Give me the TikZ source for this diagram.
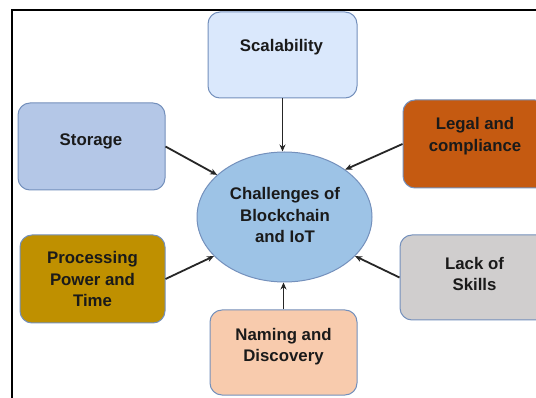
\documentclass[tikz,border=0pt]{standalone}
\usepackage{fontspec}
\setmainfont{Liberation Sans}
\usetikzlibrary{shapes.geometric,arrows.meta,calc}

\definecolor{edgeblue}{HTML}{7490BC}
\definecolor{scalfill}{HTML}{DAE8FC}
\definecolor{storfill}{HTML}{B4C7E7}
\definecolor{legalfill}{HTML}{C55A11}
\definecolor{procfill}{HTML}{BF9000}
\definecolor{lackfill}{HTML}{D0CECE}
\definecolor{namefill}{HTML}{F8CBAD}
\definecolor{hubfill}{HTML}{9DC3E6}
\definecolor{linkgray}{HTML}{262626}
\definecolor{inktext}{HTML}{1A1A1A}

\begin{document}
\begin{tikzpicture}[x=1pt,y=-1pt,
  box/.style={draw=edgeblue, line width=1pt, rounded corners=12pt, inner sep=0pt},
  hub/.style={ellipse, draw=edgeblue, line width=1pt, fill=hubfill, inner sep=0pt},
  txt/.style={align=center, text=inktext, inner sep=0pt,
              font=\bfseries\fontsize{16.8}{21.5}\selectfont},
  link/.style={draw=linkgray, line width=1.8pt, -{Stealth[length=7pt,width=6pt]}}]

\useasboundingbox (0,0) rectangle (536,398);
\clip (0,0) rectangle (536,398);
\fill[white] (0,0) rectangle (536,398);

% outer frame (left and top edges)
\draw[line width=2pt] (11.5,398) -- (11.5,10) -- (536,10);

% central topic
\node[hub, minimum width=175pt, minimum height=130pt] (ch) at (284.5,217) {};
\node[txt] (ch-t) at (285,215) {Challenges of\\Blockchain\\and IoT};

% surrounding challenges
\node[box, fill=scalfill,  minimum width=149pt, minimum height=86pt] (scal)  at (282.5,55)  {};
\node[box, fill=storfill,  minimum width=147pt, minimum height=87pt] (stor)  at (91.5,146.5) {};
\node[box, fill=legalfill, minimum width=144pt, minimum height=88pt] (legal) at (475,144)   {};
\node[box, fill=procfill,  minimum width=145pt, minimum height=88pt] (proc)  at (92.5,279)  {};
\node[box, fill=lackfill,  minimum width=149pt, minimum height=85pt] (lack)  at (474.5,277.5) {};
\node[box, fill=namefill,  minimum width=147pt, minimum height=85pt] (name)  at (283.5,352.5) {};

\node[txt] (scal-t)  at (281.5,47)  {Scalability};
\node[txt] (stor-t)  at (91,141)    {Storage};
\node[txt] (legal-t) at (475,136)   {Legal and\\compliance};
\node[txt] (proc-t)  at (92.5,279)  {Processing\\Power and\\Time};
\node[txt] (lack-t)  at (474.5,274) {Lack of\\Skills};
\node[txt] (name-t)  at (283.5,346.5) {Naming and\\Discovery};

% connectors into the central topic
\draw[link] (scal.south) -- (scal.south |- ch.north);
\draw[link] (stor.east)  -- (ch.148.9);
\draw[link] (legal.west) -- (ch.38.5);
\draw[link] (proc.east)  -- (ch.209.3);
\draw[link] (lack.west)  -- (ch.331.7);
\draw[link] (name.north) -- (name.north |- ch.south);

\end{tikzpicture}
\end{document}
